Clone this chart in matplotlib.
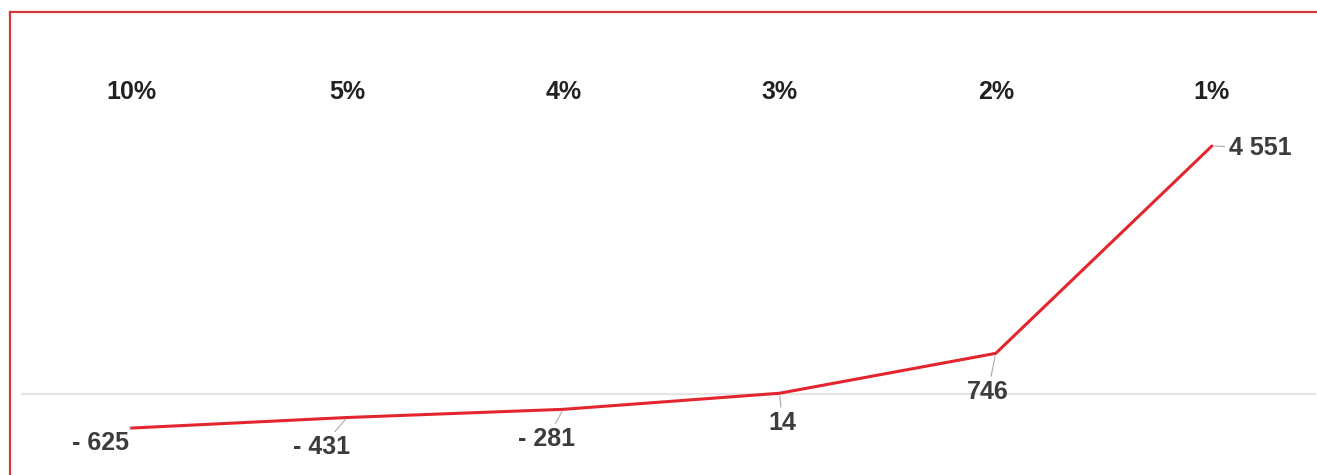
import matplotlib
matplotlib.use("Agg")
import matplotlib.pyplot as plt
from matplotlib.lines import Line2D

rates = ["10%", "5%", "4%", "3%", "2%", "1%"]
values = [-625, -431, -281, 14, 746, 4551]
value_labels = ["- 625", "- 431", "- 281", "14", "746", "4 551"]
# where each value label sits relative to its point (pixels)
label_offsets = [(-31, -15), (-26, -30), (-17, -30), (3, -30), (-8, -39), (48, -2)]

fig = plt.figure(figsize=(13.17, 4.75), dpi=100)
ax = fig.add_axes([0, 0, 1, 1])
ax.set_xlim(-0.606, 5.486)
ax.set_ylim(-1486, 7229)
ax.axis("off")

x = list(range(len(rates)))

# zero baseline
ax.axhline(0, xmin=22 / 1317, xmax=1315 / 1317, color="#e6e6e6", lw=1.6, zorder=1)

ax.plot(x, values, color="#e3262e", lw=2.2, solid_capstyle="round", zorder=3)

for xi, r in zip(x, rates):
    ax.text(xi, 0.806, r, transform=ax.get_xaxis_transform(), ha="center", va="center",
            fontsize=18, fontweight="bold", color="#222222", family="Liberation Sans")

for xi, v, lab, off in zip(x, values, value_labels, label_offsets):
    ax.annotate(lab, (xi, v), xytext=off, textcoords="offset pixels",
                ha="center", va="center", fontsize=18, fontweight="bold",
                color="#3c3c3c", family="Liberation Sans",
                arrowprops=dict(arrowstyle="-", color="#aaaaaa", lw=0.8,
                                shrinkA=1, shrinkB=2))

# red frame along the top and left edges
fig.add_artist(Line2D([10 / 1317, 1], [1 - 12 / 475, 1 - 12 / 475],
                      transform=fig.transFigure, color="#d43a3a", lw=1.6))
fig.add_artist(Line2D([10 / 1317, 10 / 1317], [0, 1 - 12 / 475],
                      transform=fig.transFigure, color="#d43a3a", lw=1.6))

fig.savefig("out.png", dpi=100, facecolor="white")
